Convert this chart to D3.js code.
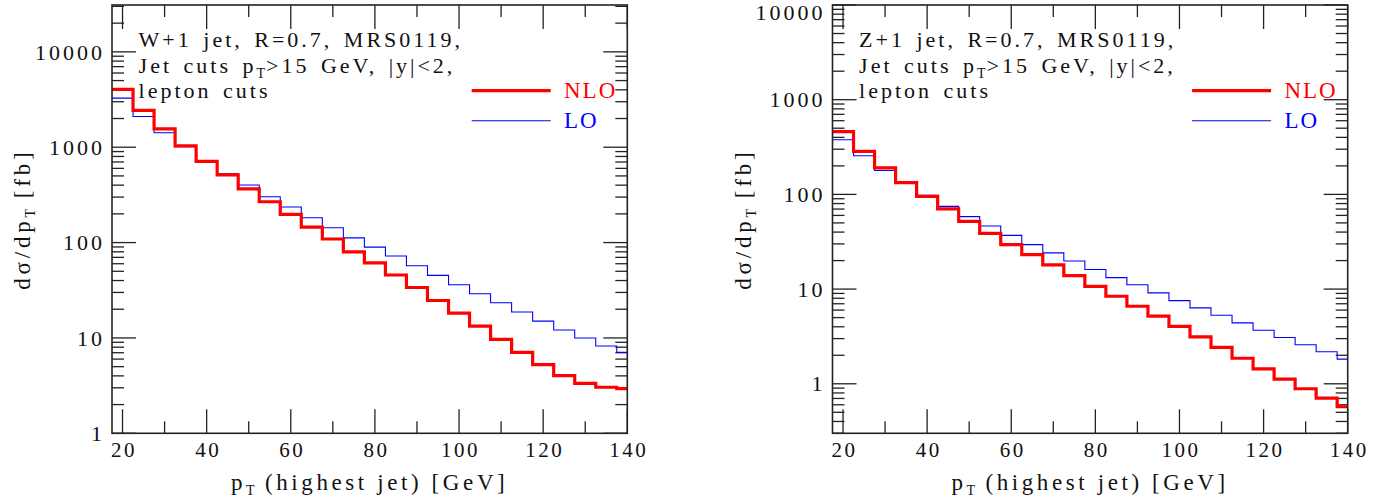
<!DOCTYPE html>
<html><head><meta charset="utf-8">
<script src="https://cdn.jsdelivr.net/npm/d3@7"></script>
<style>
body{margin:0;background:#fff}
text{font-family:"Liberation Serif","DejaVu Serif",serif;}
</style>
</head><body>
<svg id="c" width="1398" height="501"></svg>
<script>
// ---- data ----
const binCenters = [20,25,30,35,40,45,50,55,60,65,70,75,80,85,90,95,100,105,110,115,120,125,130,135,140];
const binWidth = 5;
const wNLO = [4036,2432,1559,1035,710,514,366,268,198,145,109,80,61.4,45.7,33.8,24.7,18.2,13.3,9.67,7.06,5.24,4.02,3.34,3.04,2.94];
const wLO  = [3272,2103,1416,1010,705,526,401,302,236,182,143,112,89.7,72.2,57.1,45.3,36.1,29.1,23.4,18.7,15.0,12.1,9.98,8.23,7.06];
const zNLO = [459,284,191,133,95.3,70.2,51.9,38.8,29.5,23.1,18.0,13.9,10.7,8.40,6.59,5.17,4.03,3.13,2.42,1.86,1.44,1.12,0.886,0.705,0.572];
const zLO  = [378,256,179,132,97.6,74.7,58.2,46.4,36.9,29.5,24.1,19.8,16.1,13.2,11.1,9.12,7.56,6.34,5.29,4.40,3.68,3.08,2.58,2.18,1.82];
const xMajorTicks = [20,40,60,80,100,120,140];
const xMinorTicks = [30,50,70,90,110,130];
const yMajorW = [1,10,100,1000,10000];
const yMajorZ = [1,10,100,1000,10000];
const titlesW = ["W+1 jet, R=0.7, MRS0119,", "Jet cuts p", "T", ">15 GeV, |y|<2,", "lepton cuts"];
const titlesZ = ["Z+1 jet, R=0.7, MRS0119,", "Jet cuts p", "T", ">15 GeV, |y|<2,", "lepton cuts"];
const legendLabels = ["NLO","LO"];
const xLabel = ["p","T"," (highest jet) [GeV]"];
const yLabel = ["dσ/dp","T"," [fb]"];

// ---- layout ----
const svg = d3.select("#c");
const yTop = 5, yBot = 433.3;
const panels = [
  {x0:112, x1:627.3, yDomain:[1,31000], nlo:wNLO, lo:wLO, yMajor:yMajorW, title:titlesW, id:"w"},
  {x0:832.5, x1:1347.7, yDomain:[0.3,10000], nlo:zNLO, lo:zLO, yMajor:yMajorZ, title:titlesZ, id:"z"}
];
const ink = "#222";
const RED = "#ff0000", BLUE = "#0000ff";
const LS = "3px";

panels.forEach(p => {
  const g = svg.append("g");
  const x = d3.scaleLinear().domain([17.5,140]).range([p.x0,p.x1]);
  const y = d3.scaleLog().domain(p.yDomain).range([yBot, yTop]);

  g.append("clipPath").attr("id","clip-"+p.id).append("rect")
    .attr("x",p.x0).attr("y",yTop).attr("width",p.x1-p.x0).attr("height",yBot-yTop);

  // minor y ticks
  const minors = [];
  const lo = Math.floor(Math.log10(p.yDomain[0])), hi = Math.ceil(Math.log10(p.yDomain[1]));
  for (let e = lo; e <= hi; e++) for (let k = 2; k <= 9; k++) {
    const v = k*Math.pow(10,e);
    if (v >= p.yDomain[0] && v <= p.yDomain[1]) minors.push(v);
  }
  const tk = g.append("g").attr("stroke",ink).attr("stroke-width",1.3);
  minors.forEach(v => {
    tk.append("line").attr("x1",p.x0).attr("x2",p.x0+12).attr("y1",y(v)).attr("y2",y(v));
    tk.append("line").attr("x1",p.x1).attr("x2",p.x1-12).attr("y1",y(v)).attr("y2",y(v));
  });
  p.yMajor.forEach(v => {
    tk.append("line").attr("x1",p.x0).attr("x2",p.x0+24).attr("y1",y(v)).attr("y2",y(v));
    tk.append("line").attr("x1",p.x1).attr("x2",p.x1-24).attr("y1",y(v)).attr("y2",y(v));
  });
  xMajorTicks.forEach(v => {
    tk.append("line").attr("x1",x(v)).attr("x2",x(v)).attr("y1",yBot).attr("y2",yBot-24);
    tk.append("line").attr("x1",x(v)).attr("x2",x(v)).attr("y1",yTop).attr("y2",yTop+24);
  });
  xMinorTicks.forEach(v => {
    tk.append("line").attr("x1",x(v)).attr("x2",x(v)).attr("y1",yBot).attr("y2",yBot-12);
    tk.append("line").attr("x1",x(v)).attr("x2",x(v)).attr("y1",yTop).attr("y2",yTop+12);
  });

  // tick labels (keep the topmost label just inside the picture)
  p.yMajor.forEach(v => {
    const yy = Math.max(y(v), 12);
    g.append("text").attr("x",p.x0-10+3).attr("y",yy).attr("dy","0.35em")
      .attr("text-anchor","end").attr("font-size",22).attr("letter-spacing",LS)
      .attr("fill","#111").text(d3.format("d")(v));
  });
  xMajorTicks.forEach(v => {
    g.append("text").attr("x",x(v)+1.5).attr("y",456.7)
      .attr("text-anchor","middle").attr("font-size",21).attr("letter-spacing","2.5px")
      .attr("fill","#111").text(v);
  });

  // histograms
  const line = d3.line().x(d=>x(d[0])).y(d=>y(d[1]));
  const steps = vals => {
    const pts = [];
    binCenters.forEach((c,i) => {
      pts.push([Math.max(c-binWidth/2,17.5), vals[i]]);
      pts.push([Math.min(c+binWidth/2,140), vals[i]]);
    });
    return pts;
  };
  const hg = g.append("g").attr("clip-path","url(#clip-"+p.id+")");
  hg.append("path").attr("d",line(steps(p.lo))).attr("fill","none")
    .attr("stroke",BLUE).attr("stroke-width",1.1);
  hg.append("path").attr("d",line(steps(p.nlo))).attr("fill","none")
    .attr("stroke",RED).attr("stroke-width",3.2).attr("stroke-linejoin","miter");

  // frame
  g.append("rect").attr("x",p.x0).attr("y",yTop).attr("width",p.x1-p.x0).attr("height",yBot-yTop)
    .attr("fill","none").attr("stroke",ink).attr("stroke-width",1.6);

  // annotation
  const tx = p.x0+26.6;
  const ann = g.append("g").attr("font-size",22).attr("fill","#111")
    .attr("letter-spacing",LS).attr("word-spacing","3px");
  ann.append("text").attr("x",tx).attr("y",46.7).text(p.title[0]);
  const t2 = ann.append("text").attr("x",tx).attr("y",72.7);
  t2.append("tspan").text(p.title[1]);
  t2.append("tspan").attr("font-size",14).attr("dy",5).attr("letter-spacing","1px").text(p.title[2]);
  t2.append("tspan").attr("dy",-5).text(p.title[3]);
  ann.append("text").attr("x",tx).attr("y",98.3).text(p.title[4]);

  // legend
  const lx0 = p.x1-155.6, lx1 = p.x1-76.6, ltx = p.x1-63.3;
  g.append("line").attr("x1",lx0).attr("x2",lx1).attr("y1",90.7).attr("y2",90.7)
    .attr("stroke",RED).attr("stroke-width",3.2);
  g.append("line").attr("x1",lx0).attr("x2",lx1).attr("y1",120.7).attr("y2",120.7)
    .attr("stroke",BLUE).attr("stroke-width",1.1);
  g.append("text").attr("x",ltx).attr("y",98.3).attr("font-size",23).attr("letter-spacing","2px")
    .attr("fill",RED).text(legendLabels[0]);
  g.append("text").attr("x",ltx).attr("y",128.3).attr("font-size",23).attr("letter-spacing","2px")
    .attr("fill",BLUE).text(legendLabels[1]);

  // axis titles
  const xc = (p.x0+p.x1)/2;
  const xl = g.append("text").attr("x",xc).attr("y",490).attr("text-anchor","middle")
    .attr("font-size",23).attr("letter-spacing","3.6px").attr("fill","#111");
  xl.append("tspan").text(xLabel[0]);
  xl.append("tspan").attr("font-size",14).attr("dy",5).attr("letter-spacing","1px").text(xLabel[1]);
  xl.append("tspan").attr("dy",-5).text(xLabel[2]);

  const yc = (yTop+yBot)/2;
  const yl = g.append("text").attr("transform",`translate(${p.x0-82},${yc}) rotate(-90)`)
    .attr("text-anchor","middle").attr("font-size",23).attr("letter-spacing","3.8px").attr("fill","#111");
  yl.append("tspan").text(yLabel[0]);
  yl.append("tspan").attr("font-size",14).attr("dy",5).attr("letter-spacing","1px").text(yLabel[1]);
  yl.append("tspan").attr("dy",-5).text(yLabel[2]);
});
</script>
</body></html>
